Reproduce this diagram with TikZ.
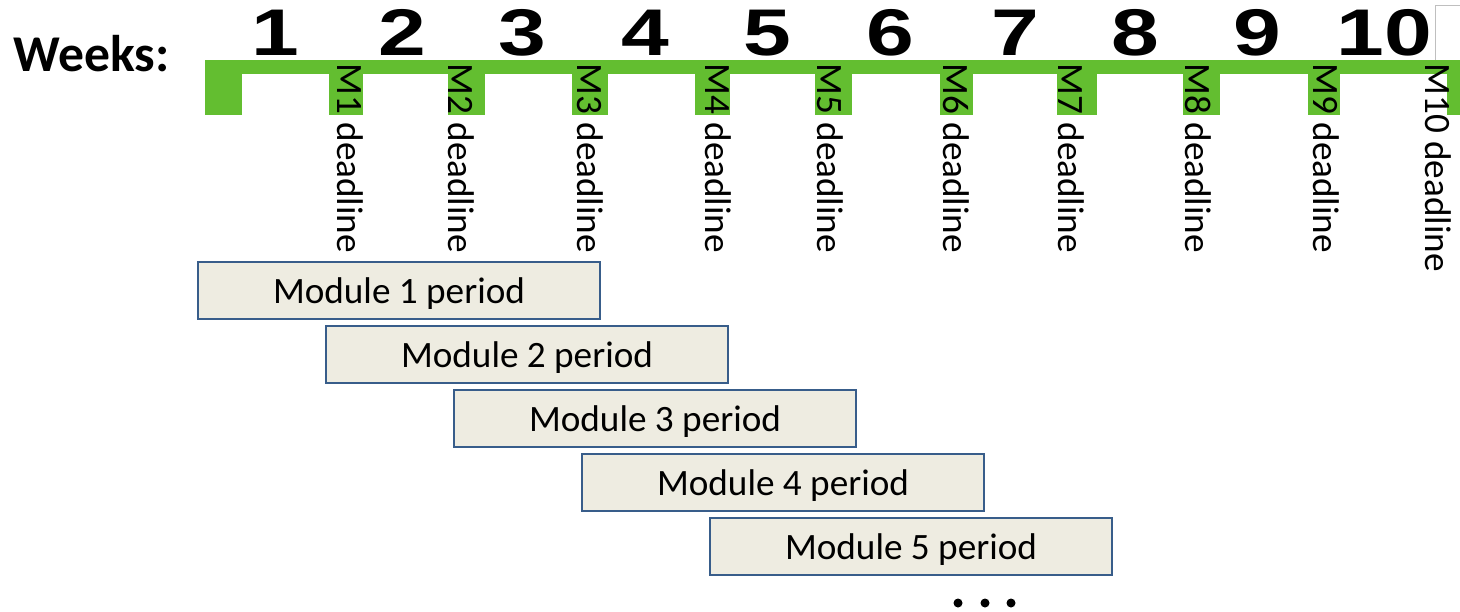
\documentclass[tikz,border=0pt]{standalone}
\usepackage{fontspec}
\setmainfont{Carlito}
\newfontfamily\digitfont{Liberation Sans}
\definecolor{barGreen}{RGB}{99,190,48}
\definecolor{boxFill}{RGB}{238,236,225}
\definecolor{boxLine}{RGB}{56,93,138}
\tikzset{
  weeknum/.style={font=\digitfont\bfseries\fontsize{33}{33}\selectfont, anchor=base, inner sep=0pt, xscale=1.3},
  deadlabel/.style={font=\fontsize{18.6}{18.6}\selectfont, rotate=-90, anchor=base west, inner sep=0pt},
  tooth/.style={fill=barGreen},
  modbox/.style={draw=boxLine, line width=1pt, fill=boxFill, minimum width=201pt, minimum height=28.5pt,
    inner sep=0pt, text height=13pt, text depth=0pt, font=\fontsize{18.6}{18.6}\selectfont},
}
\begin{document}
\begin{tikzpicture}[x=0.5pt, y=-0.5pt]
\useasboundingbox (0,0) rectangle (1460,611);
\fill[white] (0,0) rectangle (1460,611);

% heading
\node[font=\bfseries\fontsize{25.8}{25.8}\selectfont, anchor=base west, inner sep=0pt] (weeks) at (13,71) {Weeks:};

% week numbers
\foreach \n/\x in {1/275, 2/402, 3/522, 4/645, 5/767, 6/890, 7/1015, 8/1135, 9/1257, 10/1384}
  \node[weeknum] (w\n) at (\x,55) {\n};
\draw[gray!50, line width=0.5pt] (1460,5) -- (1435,5) -- (1435,60);

% green time line with a tooth at each deadline
\fill[barGreen] (205,60) rectangle (1460,74);
\foreach \a/\b in {205/242, 329/363, 448/485, 572/608, 695/730, 815/852, 940/973, 1057/1097, 1183/1220, 1308/1340, 1447/1460}
  \fill[tooth] (\a,60) rectangle (\b,115);

% deadline labels
\foreach \n/\x in {1/337, 2/448, 3/577, 4/705, 5/817, 6/943, 7/1058, 8/1185, 9/1313, 10/1425}
  \node[deadlabel] (d\n) at (\x,63) {M\n\ deadline};

% module periods
\foreach \k in {1,...,5}
  \node[modbox] (m\k) at ({399+128*(\k-1)}, {290+64*(\k-1)}) {Module \k\ period};

% more to come
\foreach \x [count=\i] in {958,985,1011}
  \fill (\x,603) circle[radius=4.5];
\end{tikzpicture}
\end{document}
